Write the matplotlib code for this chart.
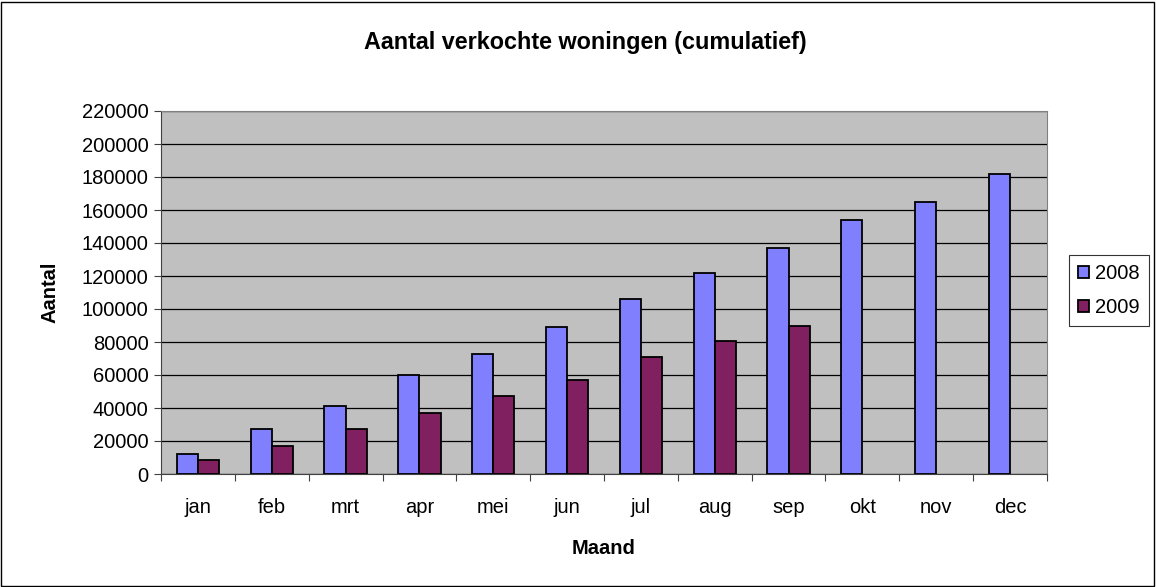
import numpy as np
import matplotlib
matplotlib.use('Agg')
import matplotlib.pyplot as plt
from matplotlib.patches import Rectangle

## -- DATA -- ##

maanden = ['jan', 'feb', 'mrt', 'apr', 'mei', 'jun', 'jul', 'aug', 'sep', 'okt', 'nov', 'dec']
verkocht_2008 = [12000, 27000, 41500, 60000, 73000, 89000, 106000, 122000, 137000, 154000, 165000, 182000]
verkocht_2009 = [8500, 17000, 27000, 37000, 47500, 57000, 71000, 80500, 90000]
y_ticks = list(range(0, 220001, 20000))

## -- FIGURE -- ##

plt.rcParams['font.family'] = ['Liberation Sans', 'DejaVu Sans']

W, H = 1156, 587
fig = plt.figure(figsize=(W/100, H/100), dpi=100)
ax = fig.add_axes([161/W, 1 - 474/H, (1047-161)/W, (474-111)/H])

# rand om de hele grafiek
fig.patches.append(Rectangle((0.001, 0.002), 0.997, 0.995, transform=fig.transFigure,
                             fill=False, edgecolor='black', linewidth=1))

x = np.arange(len(maanden))
w = 1 / 3.5
ax.bar(x[:len(verkocht_2008)] - w/2, verkocht_2008, w, color='#8080FF',
       edgecolor='black', linewidth=1.3, label='2008', zorder=3)
ax.bar(x[:len(verkocht_2009)] + w/2, verkocht_2009, w, color='#802060',
       edgecolor='black', linewidth=1.3, label='2009', zorder=3)

ax.set_facecolor('#C0C0C0')
ax.set_xlim(-0.5, len(maanden) - 0.5)
ax.set_ylim(0, 220000)
ax.set_yticks(y_ticks)
ax.set_yticklabels([str(t) for t in y_ticks], fontsize=14.5)
ax.yaxis.grid(True, color='black', linewidth=0.9, zorder=0)
ax.set_axisbelow(True)

# streepjes tussen de maanden
ax.set_xticks(np.arange(-0.5, len(maanden), 1))
ax.set_xticklabels([])
ax.set_xticks(x, minor=True)
ax.set_xticklabels(maanden, minor=True, fontsize=14.5)
ax.tick_params(axis='x', which='minor', length=0, pad=17)
ax.tick_params(axis='x', which='major', length=5, direction='out', color='#404040')
ax.tick_params(axis='y', length=5, direction='out', color='#404040', pad=4)

for s in ['top', 'right']:
    ax.spines[s].set_color('#808080')
for s in ['left', 'bottom']:
    ax.spines[s].set_color('#404040')

fig.text(585/W, 1 - 42/H, 'Aantal verkochte woningen (cumulatief)', fontsize=16.8,
         fontweight='bold', ha='center', va='center')
fig.text(604/W, 1 - 548/H, 'Maand', fontsize=14.5, fontweight='bold', ha='center', va='center')
fig.text(50/W, 1 - 292/H, 'Aantal', fontsize=14.5, fontweight='bold', ha='center', va='center',
         rotation=90)

leg = fig.legend(loc='upper left', bbox_to_anchor=(1069/W, 1 - 255/H), fontsize=14.5,
                 frameon=True, fancybox=False, edgecolor='black', handlelength=0.55,
                 handleheight=0.55, handletextpad=0.3, labelspacing=0.75, borderpad=0.45,
                 borderaxespad=0)
leg.get_frame().set_linewidth(0.8)

plt.savefig('out.png', dpi=100)
